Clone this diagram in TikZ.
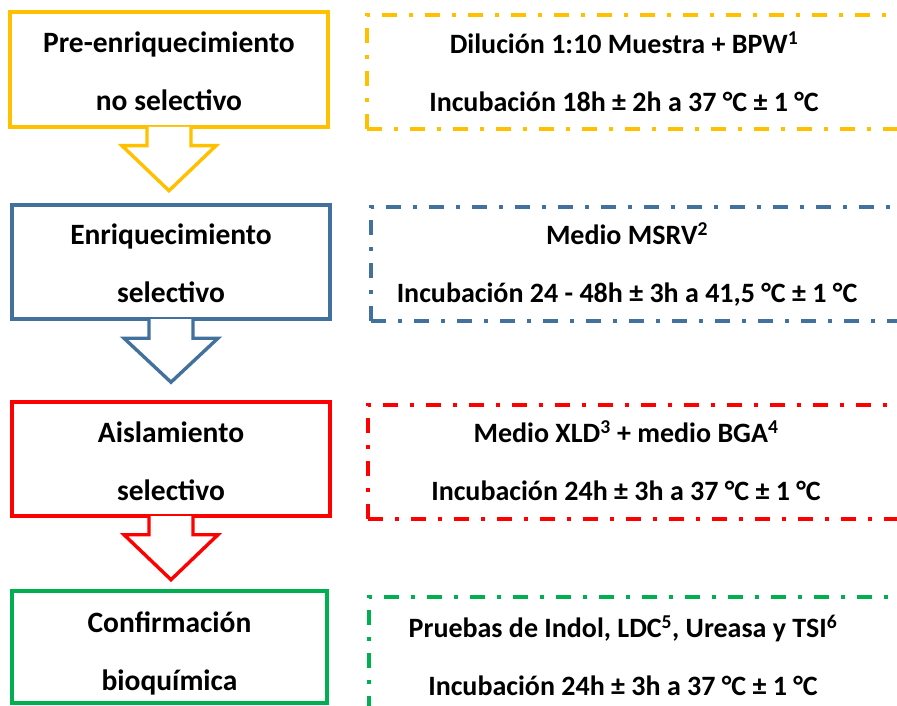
\documentclass[tikz,border=0pt]{standalone}
\usepackage{fontspec}
\setmainfont{Carlito}
\usetikzlibrary{positioning}
\definecolor{amarillo}{HTML}{FFC000}
\definecolor{azul}{HTML}{41719C}
\definecolor{rojo}{HTML}{FF0000}
\definecolor{verde}{HTML}{00B050}
\tikzset{
	etapa/.style={draw=#1, line width=3.4pt, minimum width=318pt, minimum height=114pt},
	detalle/.style={draw=#1, line width=4pt, dash pattern=on 15pt off 12pt on 4pt off 12pt, minimum width=560pt, minimum height=114pt, anchor=north west},
	titulo/.style={align=center, font=\fontsize{29.5}{58}\selectfont\bfseries},
	nota/.style={align=center, font=\fontsize{28}{58}\selectfont\bfseries},
	flecha/.style={draw=#1, fill=white, line width=3.4pt}
}

\begin{document}
\begin{tikzpicture}[x=1pt,y=-1pt]
		\useasboundingbox (0,0) rectangle (897,706);
		\node[etapa=amarillo, minimum height=115pt] (pre) at (169,69.5) {};
		\node[etapa=azul] (enr) at (171,262) {};
		\node[etapa=rojo] (ais) at (171,459) {};
		\node[etapa=verde, minimum width=315pt, minimum height=112pt] (conf) at (169.5,647) {};
		\node[titulo] (pret) at (169,71.5) {Pre-enriquecimiento\\no selectivo};
		\node[titulo] (enrt) at (171,263) {Enriquecimiento\\selectivo};
		\node[titulo] (aist) at (171,461) {Aislamiento\\selectivo};
		\node[titulo] (conft) at (169.5,653) {Confirmación\\bioquímica};
		\path[flecha=amarillo] (pre.south) ++(-22,-1.7) -- ++(0,18.7) -- ++(-25,0) -- ++(47,45) -- ++(47,-45) -- ++(-25,0) -- ++(0,-18.7);
		\path[flecha=azul] (enr.south) ++(-22,-1.7) -- ++(0,19.2) -- ++(-25,0) -- ++(47,44) -- ++(47,-44) -- ++(-25,0) -- ++(0,-19.2);
		\path[flecha=rojo] (ais.south) ++(-22,-1.7) -- ++(0,18.7) -- ++(-25,0) -- ++(47,45) -- ++(47,-45) -- ++(-25,0) -- ++(0,-18.7);
		\node[detalle=amarillo] (dil) at (365,13) {};
		\node[detalle=azul] (msrv) at (369,205) {};
		\node[detalle=rojo] (xld) at (366,403) {};
		\node[detalle=verde] (prue) at (367,595) {};
		\node[nota] (dilt) at (624,72) {Dilución 1:10 Muestra + BPW\textsuperscript{1}\\Incubación 18h ± 2h a 37 °C ± 1 °C};
		\node[nota] (msrvt) at (627,264) {Medio MSRV\textsuperscript{2}\\Incubación 24 - 48h ± 3h a 41,5 °C ± 1 °C};
		\node[nota] (xldt) at (626,461) {Medio XLD\textsuperscript{3} + medio BGA\textsuperscript{4}\\Incubación 24h ± 3h a 37 °C ± 1 °C};
		\node[nota] (pruet) at (623,655) {Pruebas de Indol, LDC\textsuperscript{5}, Ureasa y TSI\textsuperscript{6}\\Incubación 24h ± 3h a 37 °C ± 1 °C};
	\end{tikzpicture}
\end{document}
